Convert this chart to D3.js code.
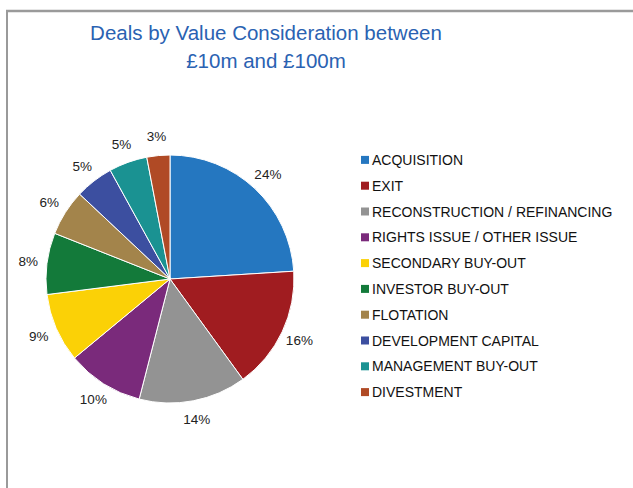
<html>
<head>
  <meta charset="utf-8">
  <title>Deals by Value Consideration</title>
  <style>
    body {
      margin: 0;
      padding: 0;
      background: white;
      font-family: "Liberation Sans", Arial, sans-serif;
    }
    .title {
      fill: #2a62b2;
      font-size: 20.5px;
    }
    .pct {
      font-size: 13.5px;
      fill: #222;
    }
    .legend text {
      font-size: 14px;
      fill: #111;
    }
  </style>
</head>
<body>
  <div id="chart"></div>

  <script src="https://cdnjs.cloudflare.com/ajax/libs/d3/7.8.5/d3.min.js"></script>
  <script>
    // chart data
    var categories = ["ACQUISITION", "EXIT", "RECONSTRUCTION / REFINANCING",
      "RIGHTS ISSUE / OTHER ISSUE", "SECONDARY BUY-OUT", "INVESTOR BUY-OUT",
      "FLOTATION", "DEVELOPMENT CAPITAL", "MANAGEMENT BUY-OUT", "DIVESTMENT"];
    var values = [24, 16, 14, 10, 9, 8, 6, 5, 5, 3];
    var colors = ["#2577c0", "#a01c20", "#939393", "#7a2a7b", "#fbd106",
      "#137a3a", "#a3844b", "#3c4fa0", "#1a9292", "#b04a25"];
    var titleLines = ["Deals by Value Consideration between", "£10m and £100m"];

    var width = 633,
      height = 488;

    var svg = d3.select("#chart")
      .append("svg")
      .attr("width", width)
      .attr("height", height);

    // frame (top and left edges only)
    svg.append("line")
      .attr("x1", 6).attr("x2", width).attr("y1", 11).attr("y2", 11)
      .attr("stroke", "#9a9a9a").attr("stroke-width", 2.5);
    svg.append("line")
      .attr("x1", 7).attr("x2", 7).attr("y1", 10).attr("y2", height)
      .attr("stroke", "#9a9a9a").attr("stroke-width", 2);

    // title
    svg.selectAll(".title")
      .data(titleLines)
      .enter()
      .append("text")
      .attr("class", "title")
      .attr("x", 266)
      .attr("y", function(d, i) { return 40 + i * 28; })
      .attr("text-anchor", "middle")
      .text(function(d) { return d; });

    // pie
    var cx = 170, cy = 279, r = 124;
    var pie = d3.pie().sort(null).value(function(d) { return d; });
    var arc = d3.arc().innerRadius(0).outerRadius(r);
    var labelArc = d3.arc().innerRadius(143).outerRadius(143);

    var g = svg.append("g").attr("transform", "translate(" + cx + "," + cy + ")");
    var arcs = pie(values);

    g.selectAll("path")
      .data(arcs)
      .enter()
      .append("path")
      .attr("d", arc)
      .attr("fill", function(d, i) { return colors[i]; })
      .attr("stroke", "white")
      .attr("stroke-width", 1);

    g.selectAll(".pct")
      .data(arcs)
      .enter()
      .append("text")
      .attr("class", "pct")
      .attr("transform", function(d) { return "translate(" + labelArc.centroid(d) + ")"; })
      .attr("text-anchor", "middle")
      .attr("dy", "0.35em")
      .text(function(d) { return d.data + "%"; });

    // legend
    var y = d3.scaleBand()
      .domain(categories)
      .range([147, 405]);

    var legend = svg.append("g").attr("class", "legend")
      .selectAll("g")
      .data(categories)
      .enter()
      .append("g")
      .attr("transform", function(d) { return "translate(361," + (y(d) + y.bandwidth() / 2) + ")"; });

    legend.append("rect")
      .attr("x", 0)
      .attr("y", -4)
      .attr("width", 8)
      .attr("height", 8)
      .attr("fill", function(d, i) { return colors[i]; });

    legend.append("text")
      .attr("x", 11)
      .attr("dy", "0.36em")
      .text(function(d) { return d; });
  </script>
</body>
</html>
